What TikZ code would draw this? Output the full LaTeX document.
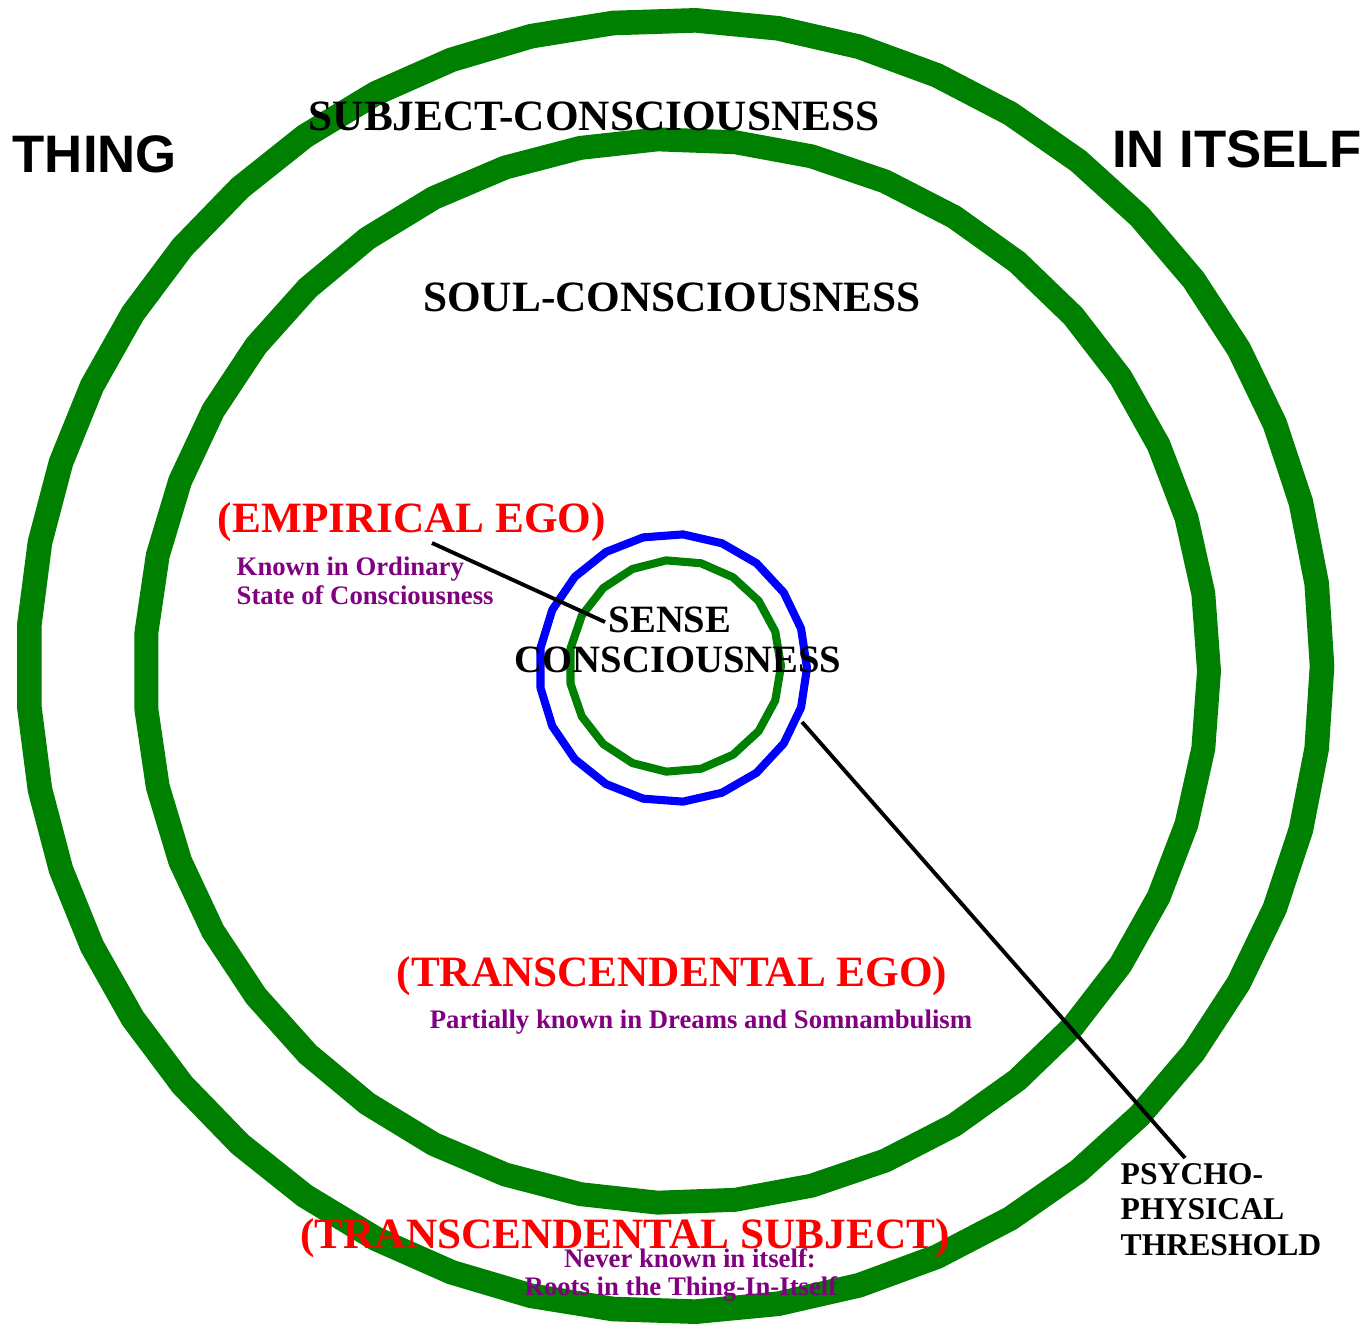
\documentclass[tikz,border=0pt]{standalone}
\usepackage{fontspec}
\setmainfont{Liberation Serif}
\newfontfamily\headsans{Liberation Sans}
\usetikzlibrary{positioning}
\definecolor{kantgreen}{RGB}{0,128,0}
\definecolor{kantblue}{RGB}{0,0,255}
\definecolor{kantred}{RGB}{255,0,0}
\definecolor{kantpurple}{RGB}{128,0,128}

\begin{document}
\begin{tikzpicture}[x=0.01cm,y=-0.01cm,line join=round,
  ring/.style={draw=kantgreen,line width=7pt},
  thinring/.style={line width=2.3pt},
  pointer/.style={draw=black,line width=1.1pt},
  title/.style={inner sep=0pt,anchor=base,font=\headsans\bfseries\fontsize{15}{18}\selectfont},
  layer/.style={inner sep=0pt,anchor=base,font=\bfseries\fontsize{12.3}{14}\selectfont},
  ego/.style={layer,text=kantred},
  note/.style={inner sep=0pt,anchor=base,text=kantpurple,font=\bfseries\fontsize{7.6}{8}\selectfont},
  small/.style={inner sep=0pt,anchor=base,font=\bfseries\fontsize{11}{11.4}\selectfont}]
\useasboundingbox (0,0) rectangle (1371,1327);
% rings
\draw[ring] plot[domain=0:360,samples=50] ({675+647*cos(\x)},{666+646*sin(\x)}) -- cycle;
\draw[ring,line width=6.8pt] plot[domain=0:360,samples=44] ({677+532*cos(\x)},{671+532*sin(\x)}) -- cycle;
\draw[thinring,draw=kantblue] plot[domain=0:360,samples=22] ({673+134*cos(\x)},{668+134*sin(\x)}) -- cycle;
\draw[thinring,draw=kantgreen] plot[domain=0:360,samples=20] ({675+106*cos(\x)},{666+106*sin(\x)}) -- cycle;
% headings
\node[title,anchor=base west] (thing) at (12,172) {THING};
\node[title,anchor=base east] (itself) at (1362,167) {IN ITSELF};
\node[layer] (subjcons) at (594,130) {SUBJECT-CONSCIOUSNESS};
\node[layer] (soulcons) at (672,311) {SOUL-CONSCIOUSNESS};
% empirical ego
\node[ego] (empego) at (412,532) {(EMPIRICAL EGO)};
\node[note,anchor=base west] (known) at (236,575) {Known in Ordinary};
\node[note,anchor=base west] (state) at (236,604) {State of Consciousness};
\node[small] (sense) at (670,632) {SENSE};
\node[small] (senscons) at (678,672) {CONSCIOUSNESS};
% transcendental ego and subject
\node[ego] (transego) at (672,986) {(TRANSCENDENTAL EGO)};
\node[note] (dreams) at (701,1028) {Partially known in Dreams and Somnambulism};
\node[ego] (transsubj) at (625,1248) {(TRANSCENDENTAL SUBJECT)};
\node[note] (never) at (690,1267) {Never known in itself:};
\node[note] (roots) at (681,1295) {Roots in the Thing-In-Itself};
% threshold
\node[small,font=\bfseries\fontsize{9}{10}\selectfont,anchor=north west,align=left] (thresh) at (1120,1163) {PSYCHO-\\PHYSICAL\\THRESHOLD};
\coordinate (egotip) at (432,543);
\coordinate (sensetip) at (605,622);
\coordinate (blueedge) at (802,722);
\coordinate (threshtip) at (1185,1158);
\draw[pointer] (egotip) -- (sensetip);
\draw[pointer] (blueedge) -- (threshtip);
\end{tikzpicture}
\end{document}
